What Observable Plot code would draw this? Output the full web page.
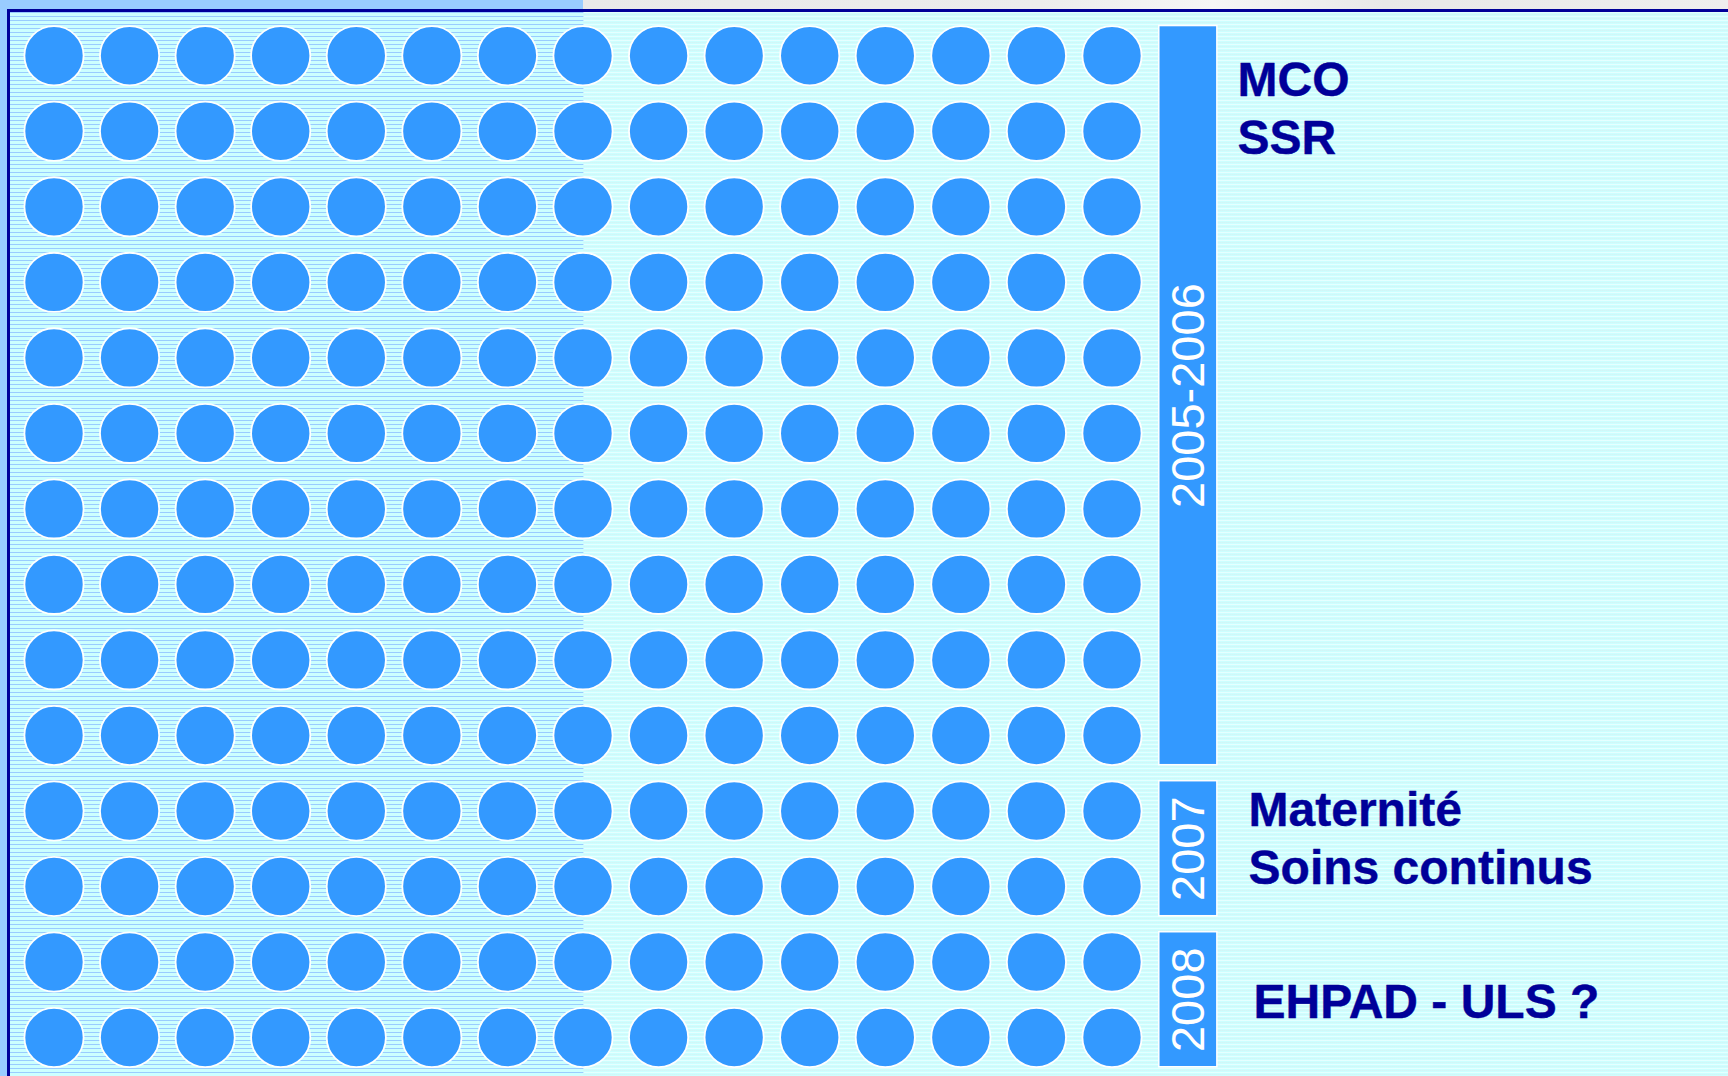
<!DOCTYPE html>
<html>
<head>
<meta charset="utf-8">
<script src="https://cdn.jsdelivr.net/npm/d3@7"></script>
<script src="https://cdn.jsdelivr.net/npm/@observablehq/plot@0.6"></script>
<style>
  html, body { margin: 0; padding: 0; background: #CCFFFF; }
  #stage { position: relative; width: 1728px; height: 1076px; overflow: hidden; background: #CCFFFF; }
  .deco { position: absolute; }
  #chart { position: absolute; left: 0; top: 0; }
</style>
</head>
<body>
<div id="stage">
  <div class="deco" style="left:0;top:0;width:583px;height:10px;background:#99CCFF"></div>
  <div class="deco" style="left:583px;top:0;width:1145px;height:10px;background:linear-gradient(to right,#e9e9e9 0%,#ececec 40%,#f6f6f6 55%,#e8e8e8 70%,#eeeeee 100%)"></div>
  <div class="deco" style="left:0;top:0;width:7px;height:1076px;background:#99CCFF"></div>
  <div class="deco" style="left:9.5px;top:11.5px;width:574px;height:1065px;background:repeating-linear-gradient(to bottom,#99CCFF 0px,#99CCFF 1.1px,#CCFFFF 1.1px,#CCFFFF 4px)"></div>
  <div class="deco" style="left:583px;top:11.5px;width:1145px;height:1065px;background:repeating-linear-gradient(to bottom,rgba(255,255,255,0.5) 0px,rgba(255,255,255,0.5) 1px,#CCFFFF 1px,#CCFFFF 2px,rgba(220,230,234,0.35) 2px,rgba(220,230,234,0.35) 3px,#CCFFFF 3px,#CCFFFF 4px)"></div>
  <div class="deco" style="left:7px;top:9px;width:1721px;height:2.5px;background:#000099"></div>
  <div class="deco" style="left:7px;top:9px;width:2.5px;height:1067px;background:#000099"></div>
  <div id="chart"></div>
</div>
<script>
// ---- data ----
const columns = [1, 2, 3, 4, 5, 6, 7, 8, 9, 10, 11, 12, 13, 14, 15];
const rows = [1, 2, 3, 4, 5, 6, 7, 8, 9, 10, 11, 12, 13, 14];
const periods = ["2005-2006", "2007", "2008"];
const periodFirstRow = [1, 11, 13];
const periodLastRow = [10, 12, 14];
const services = ["MCO\nSSR", "Maternité\nSoins continus", "EHPAD - ULS ?"];

// ---- derived tables ----
const cells = d3.cross(columns, rows).map(([col, row]) => ({col, row}));
const groups = periods.map((label, i) => ({
  label,
  first: periodFirstRow[i],
  last: periodLastRow[i],
  services: services[i]
}));
const barCol = columns.length + 1;

const blue = "#3399FF";
const navy = "#000099";
const font = "'Liberation Sans', Arial, Helvetica, sans-serif";

// service label placement (style offsets per group)
const serviceStyle = [
  {anchorRow: g => g.first, dx: 50, dy: 51},
  {anchorRow: g => (g.first + g.last) / 2, dx: 61, dy: -12},
  {anchorRow: g => (g.first + g.last) / 2, dx: 66, dy: 0}
];

const chart = Plot.plot({
  width: 1728,
  height: 1076,
  margin: 0,
  x: {type: "linear", domain: [1, 15], range: [53.5, 1111.5], axis: null},
  y: {type: "linear", domain: [1, 14], range: [55.3, 1037], axis: null},
  style: {background: "transparent", overflow: "visible", fontFamily: font},
  marks: [
    Plot.dot(cells, {x: "col", y: "row", r: 29.6, fill: blue, stroke: "white", strokeWidth: 1.8}),
    Plot.rect(groups, {
      x1: () => barCol - 0.5, x2: () => barCol + 0.5,
      y1: d => d.first - 0.5, y2: d => d.last + 0.5,
      insetLeft: 9.5, insetRight: 8, insetTop: 8, insetBottom: 8,
      fill: blue, stroke: "white", strokeWidth: 1.5
    }),
    Plot.text(groups, {
      x: () => barCol, y: d => (d.first + d.last) / 2, text: "label",
      rotate: -90, fill: "white", fontSize: 47, fontFamily: font, dx: 1
    }),
    ...groups.map((g, i) => Plot.text([g], {
      x: () => barCol, y: serviceStyle[i].anchorRow, text: "services",
      textAnchor: "start", lineAnchor: "middle", lineHeight: 1.2,
      dx: serviceStyle[i].dx, dy: serviceStyle[i].dy,
      fill: navy, stroke: navy, strokeWidth: 0.4,
      fontSize: 48, fontWeight: "bold", fontFamily: font
    }))
  ]
});
document.getElementById("chart").appendChild(chart);
</script>
</body>
</html>
